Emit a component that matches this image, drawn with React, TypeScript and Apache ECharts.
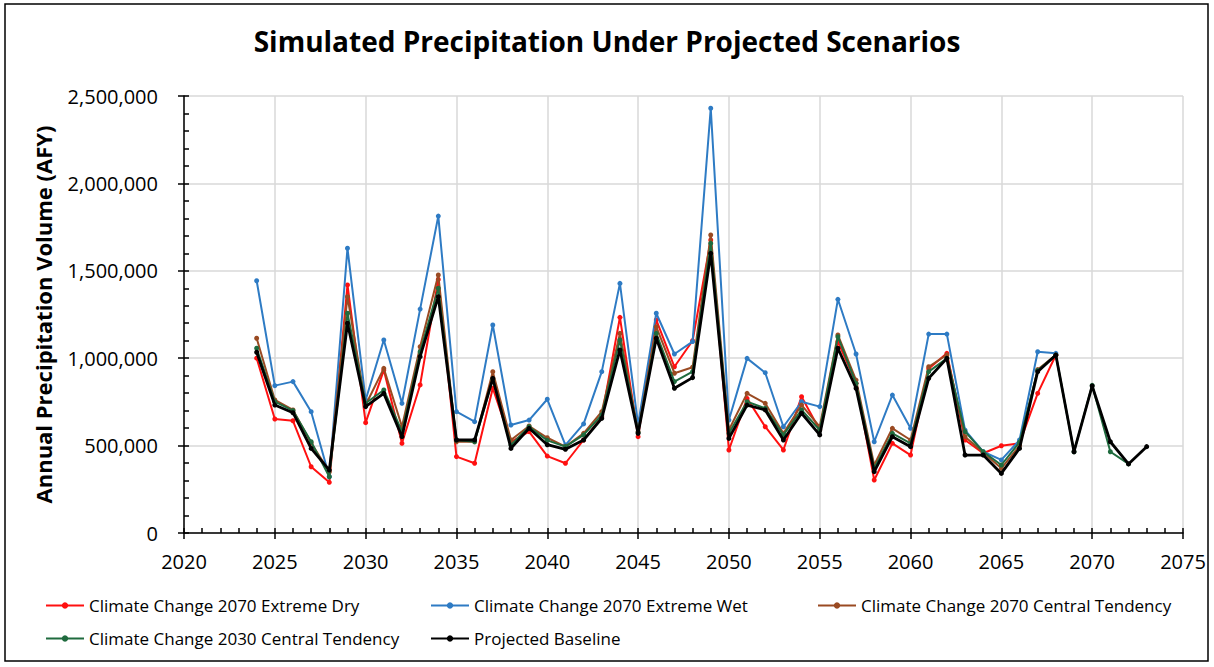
import React, { useEffect, useRef } from "react";
import * as echarts from "echarts";

const FONT = "'Open Sans', sans-serif";

const years = [
  2024, 2025, 2026, 2027, 2028, 2029, 2030, 2031, 2032, 2033,
  2034, 2035, 2036, 2037, 2038, 2039, 2040, 2041, 2042, 2043,
  2044, 2045, 2046, 2047, 2048, 2049, 2050, 2051, 2052, 2053,
  2054, 2055, 2056, 2057, 2058, 2059, 2060, 2061, 2062, 2063,
  2064, 2065, 2066, 2067, 2068, 2069, 2070, 2071, 2072, 2073,
];

const extremeDry = [
  1000000, 652000, 642000, 379000, 290000, 1419000, 631000, 932000, 513000, 847000,
  1450000, 437000, 399000, 828000, 522000, 580000, 440000, 399000, 532000, 665000,
  1234000, 551000, 1219000, 951000, 1100000, 1676000, 475000, 770000, 608000, 475000,
  780000, 589000, 1095000, 856000, 303000, 513000, 446000, 940000, 1028000, 532000,
  456000, 499000, 513000, 799000, 1018000,
];

const extremeWet = [
  1443000, 843000, 866000, 694000, 322000, 1629000, 761000, 1104000, 742000, 1281000,
  1813000, 694000, 637000, 1190000, 618000, 646000, 765000, 503000, 624000, 923000,
  1428000, 620000, 1257000, 1024000, 1095000, 2430000, 646000, 999000, 917000, 608000,
  751000, 723000, 1337000, 1024000, 522000, 789000, 599000, 1138000, 1138000, 589000,
  465000, 418000, 532000, 1037000, 1028000,
];

const central2070 = [
  1114000, 761000, 704000, 515000, 351000, 1352000, 732000, 942000, 608000, 1066000,
  1476000, 522000, 522000, 923000, 532000, 612000, 545000, 494000, 570000, 694000,
  1142000, 580000, 1180000, 914000, 948000, 1705000, 589000, 799000, 742000, 570000,
  732000, 608000, 1133000, 875000, 389000, 599000, 532000, 951000, 1019000, 551000,
  460000, 370000, 500000, 935000, 1018000,
];

const central2030 = [
  1057000, 751000, 700000, 522000, 322000, 1257000, 742000, 818000, 580000, 1037000,
  1400000, 532000, 522000, 880000, 503000, 608000, 530000, 494000, 561000, 675000,
  1104000, 575000, 1142000, 866000, 923000, 1657000, 570000, 751000, 713000, 561000,
  704000, 589000, 1123000, 856000, 370000, 570000, 513000, 923000, 999000, 580000,
  465000, 389000, 520000, 930000, 1018000, 465000, 845000, 465000, 395000,
];

const baseline = [
  1034000, 732000, 688000, 484000, 360000, 1200000, 723000, 799000, 551000, 1009000,
  1352000, 532000, 532000, 885000, 484000, 599000, 505000, 479000, 532000, 656000,
  1047000, 570000, 1114000, 828000, 889000, 1600000, 541000, 732000, 704000, 532000,
  685000, 561000, 1057000, 828000, 351000, 551000, 494000, 885000, 999000, 446000,
  446000, 341000, 484000, 923000, 1018000, 465000, 841000, 522000, 395000, 494000,
];

const seriesNames = [
  "Climate Change 2070 Extreme Dry",
  "Climate Change 2070 Extreme Wet",
  "Climate Change 2070 Central Tendency",
  "Climate Change 2030 Central Tendency",
  "Projected Baseline",
];
const seriesColors = ["#FF1010", "#2E7BC4", "#9A4A22", "#1F6B3E", "#000000"];
const seriesValues = [extremeDry, extremeWet, central2070, central2030, baseline];

const xTicks = { min: 2020, max: 2075, interval: 5 };
const yTicks = { min: 0, max: 2500000, interval: 500000 };

const legendPos = [
  { left: 45, top: 597 },
  { left: 430, top: 597 },
  { left: 817, top: 597 },
  { left: 45, top: 630 },
  { left: 430, top: 630 },
];

function buildOption() {
  const axisBase = {
    type: "value" as const,
  };
  return {
    animation: false,
    backgroundColor: "#ffffff",
    title: {
      text: "Simulated Precipitation Under Projected Scenarios",
      left: "center",
      top: 22,
      textStyle: { fontFamily: FONT, fontSize: 28, fontWeight: "bold", color: "#000" },
    },
    graphic: [
      {
        type: "rect",
        shape: { x: 5, y: 4, width: 1203, height: 657 },
        style: { fill: "none", stroke: "#000", lineWidth: 1.5 },
        silent: true,
      },
    ],
    grid: { left: 184, right: 31, top: 96, bottom: 134 },
    legend: seriesNames.map((n, i) => ({
      data: [n],
      left: legendPos[i].left,
      top: legendPos[i].top,
      padding: 0,
      itemWidth: 38,
      itemHeight: 8,
      textStyle: { fontFamily: FONT, fontSize: 17, color: "#000" },
    })),
    xAxis: [
      {
        ...axisBase,
        ...xTicks,
        position: "bottom",
        axisLine: { show: true, onZero: false, lineStyle: { color: "#000", width: 1.5 } },
        axisTick: { show: true, inside: true, length: 5, lineStyle: { color: "#000", width: 1.5 } },
        minorTick: { show: true, splitNumber: 5, length: 5, lineStyle: { color: "#000", width: 1.5 } },
        axisLabel: {
          margin: 18,
          fontFamily: FONT,
          fontSize: 20,
          color: "#000",
          formatter: (v: number) => String(v),
        },
        splitLine: { show: true, lineStyle: { color: "#d9d9d9", width: 1.5 } },
      },
      {
        ...axisBase,
        ...xTicks,
        position: "bottom",
        axisLine: { show: false, onZero: false },
        axisTick: { show: true, inside: false, length: 6, lineStyle: { color: "#000", width: 1.5 } },
        axisLabel: { show: false },
        splitLine: { show: false },
      },
    ],
    yAxis: [
      {
        ...axisBase,
        ...yTicks,
        position: "left",
        name: "Annual Precipitation Volume (AFY)",
        nameLocation: "middle",
        nameGap: 130,
        nameRotate: 90,
        nameTextStyle: { fontFamily: FONT, fontSize: 22, fontWeight: "bold", color: "#000" },
        axisLine: { show: true, lineStyle: { color: "#000", width: 1.5 } },
        axisTick: { show: true, inside: true, length: 5, lineStyle: { color: "#000", width: 1.5 } },
        minorTick: { show: true, splitNumber: 5, length: 5, lineStyle: { color: "#000", width: 1.5 } },
        axisLabel: {
          margin: 26,
          fontFamily: FONT,
          fontSize: 20,
          color: "#000",
          formatter: (v: number) => v.toLocaleString("en-US"),
        },
        splitLine: { show: true, lineStyle: { color: "#d9d9d9", width: 1.5 } },
      },
      {
        ...axisBase,
        ...yTicks,
        position: "left",
        axisLine: { show: false },
        axisTick: { show: true, inside: false, length: 6, lineStyle: { color: "#000", width: 1.5 } },
        axisLabel: { show: false },
        splitLine: { show: false },
      },
    ],
    series: seriesNames.map((n, i) => ({
      name: n,
      type: "line",
      xAxisIndex: 0,
      yAxisIndex: 0,
      data: seriesValues[i].map((v, j) => [years[j], v]),
      symbol: "circle",
      symbolSize: 5,
      color: seriesColors[i],
      lineStyle: { width: i === 4 ? 2.8 : 2, color: seriesColors[i] },
      itemStyle: { color: seriesColors[i] },
      emphasis: { disabled: true },
      z: 2 + i,
    })),
  };
}

export default function App() {
  const ref = useRef<HTMLDivElement>(null);
  useEffect(() => {
    if (!ref.current) return;
    const chart = echarts.init(ref.current, null, { renderer: "svg" });
    chart.setOption(buildOption() as any);
    return () => chart.dispose();
  }, []);
  return (
    <div
      ref={ref}
      style={{ position: "fixed", left: 0, top: 0, width: 1214, height: 667, background: "#fff" }}
    />
  );
}
